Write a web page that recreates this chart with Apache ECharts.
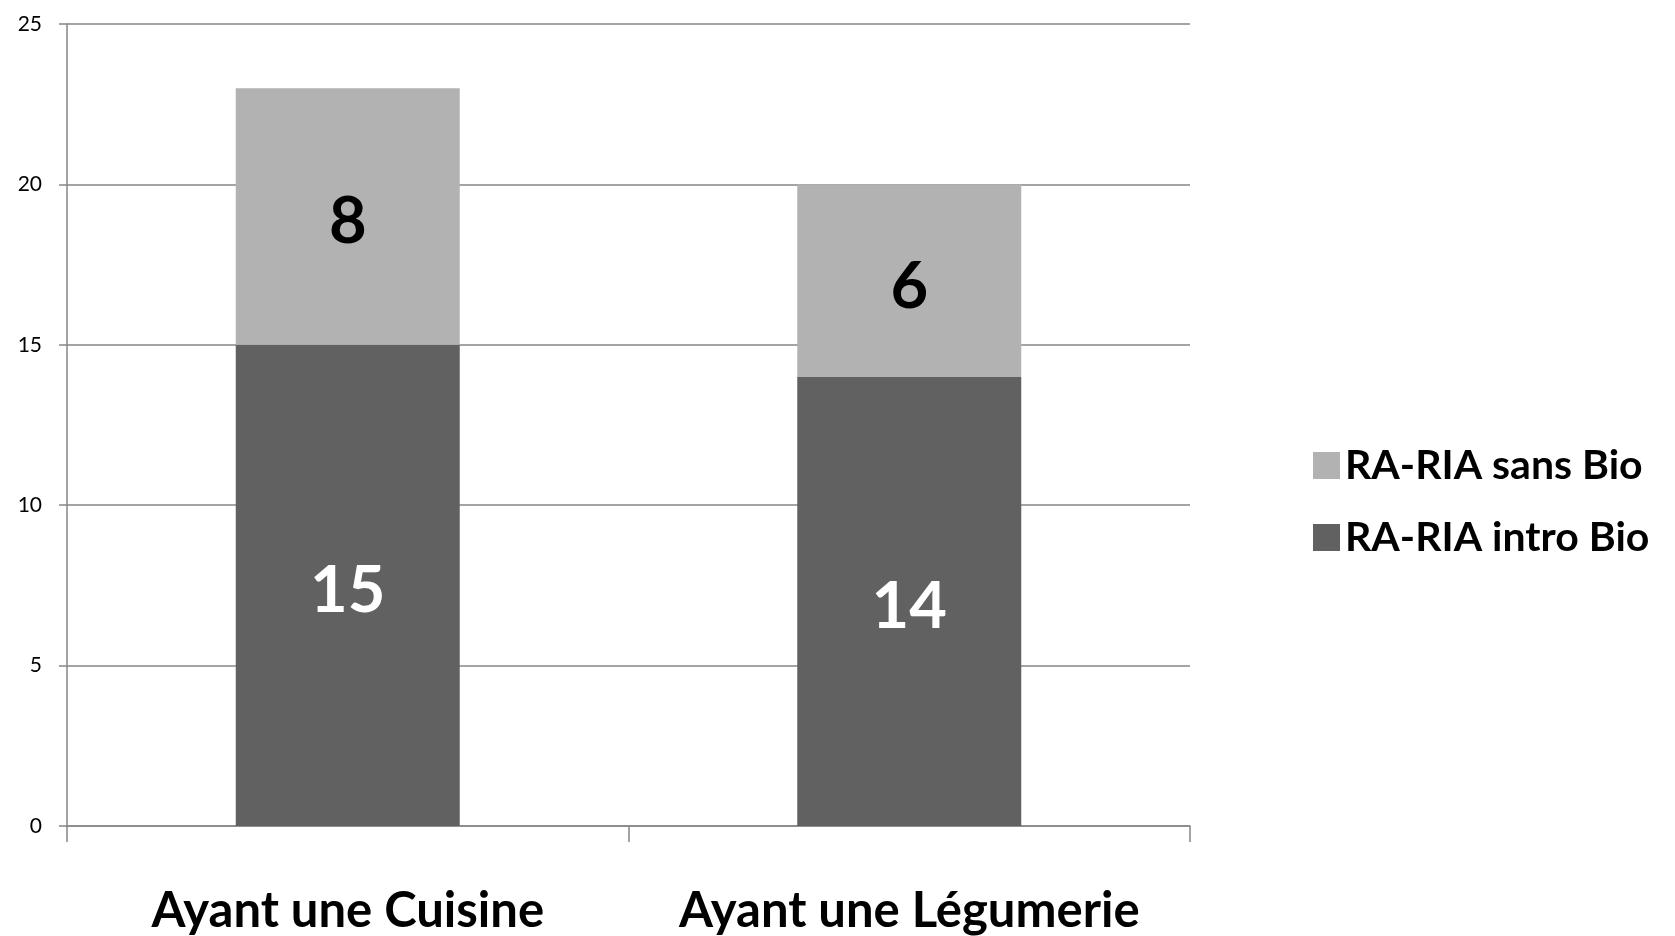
<!DOCTYPE html>
<html>
<head>
<meta charset="utf-8">
<script src="https://cdn.jsdelivr.net/npm/echarts@6/dist/echarts.min.js"></script>
<style>
  html, body { margin: 0; padding: 0; background: #fff; }
  #chart { width: 1675px; height: 936px; }
</style>
</head>
<body>
<div id="chart"></div>
<script>
// catégories et valeurs
const categories = ['Ayant une Cuisine', 'Ayant une Légumerie']
const introBio = [15, 14]
const sansBio = [8, 6]
const seriesNames = ['RA-RIA intro Bio', 'RA-RIA sans Bio']

const FONT = 'Lato, "Open Sans", sans-serif'
const axisGray = '#868686'

const myChart = echarts.init(document.getElementById('chart'))
const option = {
  animation: false,
  textStyle: { fontFamily: FONT },
  grid: {
    left: 67,
    right: 485,
    top: 24,
    bottom: 110
  },
  legend: {
    data: [seriesNames[1], seriesNames[0]], // ordre inversé comme dans la légende
    orient: 'vertical',
    left: 1308,
    top: 440,
    icon: 'rect',
    itemWidth: 27,
    itemHeight: 27,
    itemGap: 31,
    textStyle: {
      fontFamily: FONT,
      fontSize: 41,
      fontWeight: 'bold',
      color: '#000'
    }
  },
  xAxis: {
    type: 'category',
    data: categories,
    axisLine: { lineStyle: { color: axisGray, width: 1.5 } },
    axisTick: { show: true, interval: 0, alignWithLabel: false, length: 16, lineStyle: { color: axisGray, width: 1.5 } },
    axisLabel: {
      interval: 0,
      hideOverlap: false,
      fontFamily: FONT,
      fontSize: 49,
      fontWeight: 'bold',
      color: '#000',
      margin: 61
    }
  },
  yAxis: {
    type: 'value',
    min: 0,
    max: 25,
    interval: 5,
    axisLine: { show: true, lineStyle: { color: axisGray, width: 1.5 } },
    axisTick: { show: true, length: 8, lineStyle: { color: axisGray, width: 1.5 } },
    splitLine: { lineStyle: { color: axisGray, width: 1.5 } },
    axisLabel: {
      fontFamily: FONT,
      fontSize: 21,
      color: '#000',
      margin: 25
    }
  },
  series: [
    {
      name: seriesNames[0],
      type: 'bar',
      stack: 'total',
      data: introBio,
      barWidth: 224,
      itemStyle: { color: '#616161' },
      label: {
        show: true,
        position: 'inside',
        offset: [0, 6],
        fontFamily: FONT,
        fontSize: 65,
        fontWeight: 'bold',
        color: '#fff'
      }
    },
    {
      name: seriesNames[1],
      type: 'bar',
      stack: 'total',
      data: sansBio,
      barWidth: 224,
      itemStyle: { color: '#b2b2b2' },
      label: {
        show: true,
        position: 'inside',
        offset: [0, 6],
        fontFamily: FONT,
        fontSize: 65,
        fontWeight: 'bold',
        color: '#000'
      }
    }
  ]
}
myChart.setOption(option)
</script>
</body>
</html>
